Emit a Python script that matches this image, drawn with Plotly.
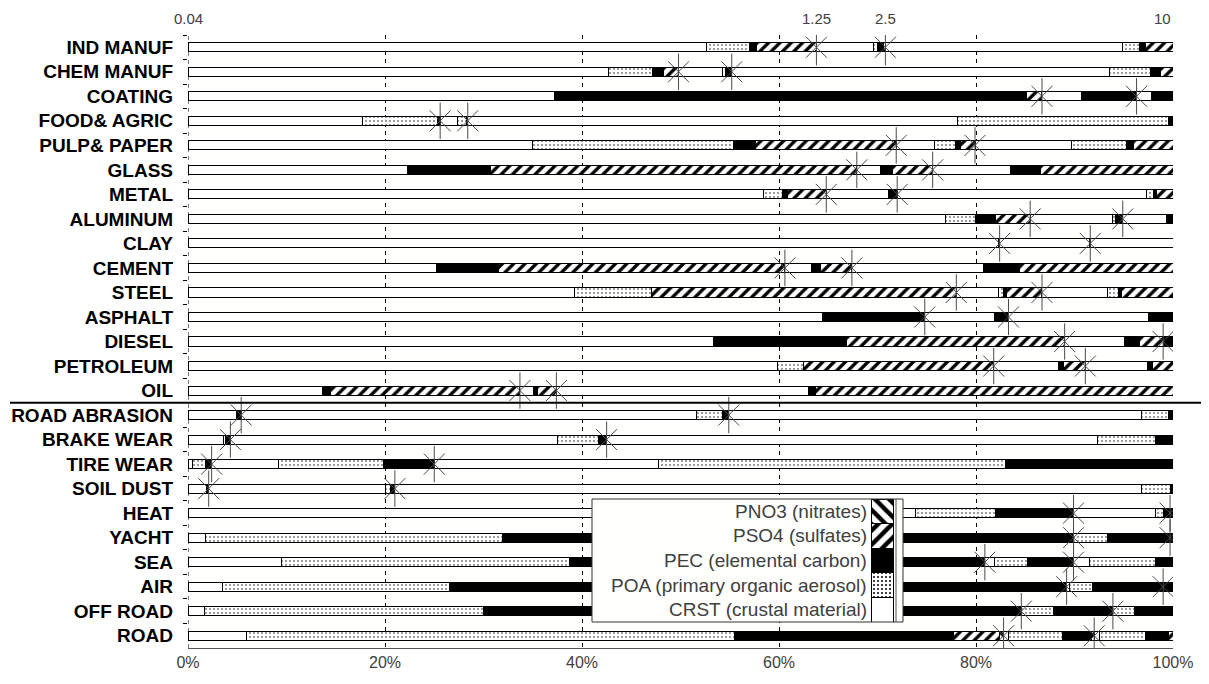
import numpy as np
import plotly.graph_objects as go

categories = ["IND MANUF", "CHEM MANUF", "COATING", "FOOD& AGRIC", "PULP& PAPER", "GLASS",
              "METAL", "ALUMINUM", "CLAY", "CEMENT", "STEEL", "ASPHALT", "DIESEL",
              "PETROLEUM", "OIL", "ROAD ABRASION", "BRAKE WEAR", "TIRE WEAR", "SOIL DUST",
              "HEAT", "YACHT", "SEA", "AIR", "OFF ROAD", "ROAD"]

# size bin 1 (finest, up to first star) - % of total mass
crst_1 = [52.6, 42.7, 37.2, 17.7, 35.0, 22.3, 58.4, 76.9, 82.3, 25.2, 39.2, 64.4, 53.3,
          59.8, 13.7, 4.9, 3.6, 0.5, 1.9, 73.9, 1.8, 9.5, 3.5, 1.7, 5.9]
poa_1 = [4.4, 4.5, 0.0, 7.6, 20.4, 0.0, 2.0, 3.0, 0.0, 0.0, 7.9, 0.0, 0.0,
         2.7, 0.0, 0.0, 0.2, 1.3, 0.0, 8.1, 30.1, 29.2, 23.0, 28.3, 49.6]
pec_1 = [0.7, 1.1, 47.9, 0.3, 2.2, 8.4, 0.5, 2.1, 0.1, 6.3, 0.0, 10.4, 13.6,
         0.0, 0.8, 0.5, 0.5, 0.6, 0.2, 7.9, 58.0, 42.2, 62.7, 54.6, 22.2]
pso4_1 = [6.1, 1.5, 1.6, 0.0, 14.3, 37.2, 3.9, 3.5, 0.0, 29.1, 30.9, 0.0, 22.1,
          19.3, 19.2, 0.0, 0.0, 0.0, 0.0, 0.0, 0.0, 0.0, 0.0, 0.0, 4.7]
pno3_1 = [0.0, 0.0, 0.0, 0.0, 0.0, 0.0, 0.0, 0.0, 0.0, 0.0, 0.0, 0.0, 0.0,
          0.0, 0.0, 0.0, 0.0, 0.0, 0.0, 0.0, 0.0, 0.0, 0.0, 0.0, 0.4]

# size bin 2 (between the two stars)
crst_2 = [5.8, 4.5, 4.0, 1.8, 3.9, 2.4, 6.3, 8.4, 9.1, 2.7, 4.3, 7.1, 6.1,
          6.6, 1.4, 46.2, 33.2, 6.8, 17.9, 8.3, 0.0, 1.0, 0.3, 0.0, 0.5]
poa_2 = [0.4, 0.3, 0.0, 0.9, 2.1, 0.0, 0.0, 0.3, 0.0, 0.0, 0.5, 0.0, 0.0,
         0.0, 0.0, 2.7, 4.2, 10.6, 0.6, 0.8, 3.4, 3.3, 2.3, 3.3, 5.5]
pec_2 = [0.6, 0.6, 5.6, 0.1, 0.5, 1.2, 0.9, 0.7, 0.1, 0.9, 0.3, 1.4, 1.5,
         0.5, 0.4, 0.6, 0.8, 5.2, 0.4, 0.7, 6.4, 4.7, 7.2, 6.0, 2.9]
pso4_2 = [0.2, 0.0, 0.0, 0.0, 1.5, 4.1, 0.0, 0.0, 0.0, 3.2, 3.6, 0.0, 2.4,
          2.2, 1.9, 0.0, 0.0, 0.0, 0.0, 0.0, 0.0, 0.0, 0.0, 0.0, 0.3]
pno3_2 = [0.0] * 25

# size bin 3 (coarsest, after the second star)
crst_3 = [24.1, 38.4, 1.5, 49.7, 9.8, 7.9, 25.3, 4.4, 8.4, 13.4, 6.7, 14.2, 0.0,
          6.3, 25.6, 41.9, 49.8, 22.8, 75.8, 0.0, 0.0, 1.6, 0.0, 0.0, 0.5]
poa_3 = [1.7, 4.1, 0.0, 21.4, 5.6, 0.0, 0.7, 0.0, 0.0, 0.0, 1.1, 0.0, 0.0,
         0.0, 0.0, 2.7, 5.9, 35.2, 2.9, 0.0, 0.0, 6.7, 0.0, 2.2, 4.7]
pec_3 = [0.6, 1.0, 2.2, 0.5, 0.7, 3.0, 0.3, 0.7, 0.0, 3.6, 0.3, 2.5, 1.0,
         0.5, 0.7, 0.5, 1.8, 17.0, 0.3, 0.3, 0.3, 1.8, 1.0, 3.9, 2.3]
pso4_3 = [2.8, 1.3, 0.0, 0.0, 4.0, 13.5, 1.7, 0.0, 0.0, 15.6, 5.2, 0.0, 0.0,
          2.1, 36.3, 0.0, 0.0, 0.0, 0.0, 0.0, 0.0, 0.0, 0.0, 0.0, 0.5]
pno3_3 = [0.0] * 25

x_ticks = [0, 20, 40, 60, 80, 100]
x_tick_labels = ["0%", "20%", "40%", "60%", "80%", "100%"]
size_labels = ["0.04", "1.25", "2.5", "10"]
species_names = ["PNO3 (nitrates)", "PSO4 (sulfates)", "PEC (elemental carbon)",
                 "POA (primary organic aerosol)", "CRST (crustal material)"]

# the page body adds an 8px offset, so the figure is laid out 8px smaller
OFF = 8
W, H = 1209 - OFF, 684 - OFF
ML, MT = 188 - OFF, 35 - OFF
PW, PH = 985, 613
MR, MB = W - ML - PW, H - MT - PH
FONT = "Arial, Liberation Sans, sans-serif"

def pattern_for(sp):
    if sp == "POA":
        return dict(shape=".", fgcolor="black", bgcolor="white", size=4, solidity=0.1, fillmode="replace")
    if sp == "PSO4":
        return dict(shape="/", fgcolor="black", bgcolor="white", size=8, solidity=0.42, fillmode="replace")
    if sp == "PNO3":
        return dict(shape="\\", fgcolor="black", bgcolor="white", size=8, solidity=0.42, fillmode="replace")
    return dict(shape="")

fill_color = {"CRST": "white", "POA": "white", "PEC": "black", "PSO4": "white", "PNO3": "white"}

bins = [
    [("CRST", crst_1), ("POA", poa_1), ("PEC", pec_1), ("PSO4", pso4_1), ("PNO3", pno3_1)],
    [("CRST", crst_2), ("POA", poa_2), ("PEC", pec_2), ("PSO4", pso4_2), ("PNO3", pno3_2)],
    [("CRST", crst_3), ("POA", poa_3), ("PEC", pec_3), ("PSO4", pso4_3), ("PNO3", pno3_3)],
]

fig = go.Figure()
for b in bins:
    for sp, vals in b:
        fig.add_trace(go.Bar(
            y=categories, x=vals, orientation="h",
            marker=dict(color=fill_color[sp], line=dict(color="black", width=1),
                        pattern=pattern_for(sp)),
            showlegend=False, hoverinfo="skip"))

# star markers at the size-bin boundaries
b1 = np.sum([v for _, v in bins[0]], axis=0)
b2 = b1 + np.sum([v for _, v in bins[1]], axis=0)
star_x = list(b1) + list(b2)
star_y = categories + categories
for sym, sz in (("x-thin-open", 21), ("line-ns-open", 26)):
    fig.add_trace(go.Scatter(
        x=star_x, y=star_y, mode="markers",
        marker=dict(symbol=sym, size=sz, color="#4a4a4a", line=dict(color="#4a4a4a", width=1)),
        showlegend=False, hoverinfo="skip"))

# legend panel as an inset subplot (page coordinates of the box)
lx0, lx1, ly0, ly1 = 592, 903, 499, 622
leg_species = ["PNO3", "PSO4", "PEC", "POA", "CRST"]
leg_y = [4, 3, 2, 1, 0]
for sp, yy in zip(leg_species, leg_y):
    pat = pattern_for(sp)
    if sp in ("PSO4", "PNO3"):
        pat = dict(pat, size=10, solidity=0.45)
    if sp == "POA":
        pat = dict(pat, size=4, solidity=0.2)
    fig.add_trace(go.Bar(
        y=[yy], x=[22], base=[279], orientation="h", width=1,
        xaxis="x2", yaxis="y2",
        marker=dict(color=fill_color[sp], line=dict(color="black", width=1), pattern=pat),
        showlegend=False, hoverinfo="skip"))
for yy, name in zip(leg_y, species_names):
    fig.add_annotation(x=277, y=yy, xref="x2", yref="y2", text=name, showarrow=False,
                       xanchor="right", yanchor="middle",
                       font=dict(family=FONT, size=19, color="#404040"))
fig.add_shape(type="rect", xref="x2 domain", yref="y2 domain", x0=0, x1=1, y0=0, y1=1,
              line=dict(color="#333333", width=1), layer="above")
fig.add_shape(type="line", xref="x2", yref="y2", x0=304, x1=304, y0=-0.5, y1=4.5,
              line=dict(color="#555555", width=1), layer="above")

# dashed gridline at 0% (plotly skips the grid line on the axis edge)
fig.add_shape(type="line", xref="x", yref="paper", x0=0, x1=0, y0=0, y1=1,
              line=dict(color="black", width=1, dash="4px,4px"), layer="below")

# separator between stationary and mobile/fugitive sources
fig.add_shape(type="line", xref="paper", yref="y", x0=(10 - 188) / PW, x1=(1209 - 188) / PW,
              y0=14.5, y1=14.5, line=dict(color="black", width=2), layer="above")

# top size labels (µm cut points), aligned with the first bar's bins
top_x = [0, b1[0], b2[0], 100]
top_anchor = ["center", "center", "center", "right"]
for tx, tl, an in zip(top_x, size_labels, top_anchor):
    fig.add_annotation(x=tx, y=1 + (35 - 18) / PH, xref="x", yref="paper", text=tl,
                       showarrow=False, xanchor=an, yanchor="middle",
                       font=dict(family=FONT, size=15, color="#404040"))

fig.update_layout(
    width=W, height=H, barmode="stack", bargap=0.63,
    margin=dict(l=ML, r=MR, t=MT, b=MB, autoexpand=False),
    paper_bgcolor="white", plot_bgcolor="#fffffe",
    font=dict(family=FONT, color="black"),
    xaxis=dict(range=[0, 100], tickvals=x_ticks, ticktext=x_tick_labels, showgrid=True,
               gridcolor="black", gridwidth=1, griddash="4px,4px", zeroline=False,
               showline=True, linecolor="#555555", linewidth=1, ticks="",
               automargin=False, tickfont=dict(family=FONT, size=16, color="#404040")),
    yaxis=dict(type="category", categoryorder="array", categoryarray=categories,
               range=[24.5, -0.5], tickson="boundaries", ticks="outside", ticklen=4,
               tickcolor="black", showgrid=False, zeroline=False, showline=False,
               automargin=False,
               tickfont=dict(size=19, color="black", family=FONT, weight="bold"),
               ticklabelstandoff=14),
    xaxis2=dict(domain=[(lx0 - 188) / PW, (lx1 - 188) / PW], range=[0, lx1 - lx0], visible=False,
                anchor="y2", fixedrange=True),
    yaxis2=dict(domain=[(648 - ly1) / PH, (648 - ly0) / PH], range=[-0.5, 4.5], visible=False,
                anchor="x2", fixedrange=True),
)

fig.write_html("out.html")
